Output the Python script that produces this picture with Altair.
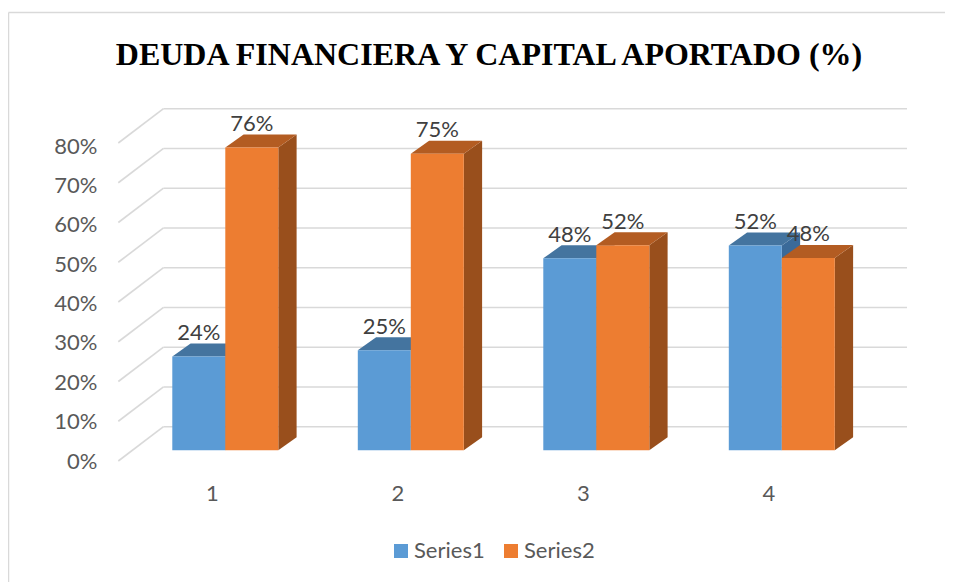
import altair as alt
import pandas as pd

TITLE = "DEUDA FINANCIERA Y CAPITAL APORTADO (%)"
categories = [1, 2, 3, 4]
series1 = [0.236, 0.252, 0.483, 0.515]
series2 = [0.762, 0.746, 0.516, 0.484]
y_ticks = [0, 0.1, 0.2, 0.3, 0.4, 0.5, 0.6, 0.7, 0.8]
C1, C2 = "#5b9bd5", "#ed7d31"
C1_TOP, C1_SIDE = "#44749f", "#3a6a99"
C2_TOP, C2_SIDE = "#b35c22", "#994f1c"
GRID = "#d9d9d9"

W, H = 937, 574
# scale domains (category units / fraction units)
XDOM = [-0.1714, 4.8798]
YDOM = [-0.3313, 1.1127]
XDOM_AX = [-0.0997, 4.9515]
YDOM_AX = [-0.3073, 1.1505]
BAR_W = 0.2857      # bar width in category units
DEPTH_X = 0.0987    # bar depth in category units
DEPTH_Y = 0.0327    # bar depth in value units
WALL_Y = 0.0594     # rise of back wall above the bar baseline
FLOOR_Y = 0.0269    # drop of floor front edge below the bar baseline
GRID_X = [0.4232, 0.6668, 4.675]


def X(f, axis=None, dom=XDOM):
    return alt.X(f, type="quantitative", scale=alt.Scale(domain=dom, nice=False, zero=False), axis=axis)


def Y(f, axis=None, dom=YDOM):
    return alt.Y(f, type="quantitative", scale=alt.Scale(domain=dom, nice=False, zero=False), axis=axis)


def faces(values, left_off):
    front, side, top = [], [], []
    for c, v in zip(categories, values):
        xl = c + left_off
        xr = xl + BAR_W
        front.append(dict(x=xl, x2=xr, y=0, y2=v, c=c))
        side += [dict(x=xr, y=0, y2=v, c=c),
                 dict(x=xr + DEPTH_X, y=DEPTH_Y, y2=v + DEPTH_Y, c=c)]
        top += [dict(x=xl, y=v, y2=v, c=c),
                dict(x=xl + DEPTH_X, y=v, y2=v + DEPTH_Y, c=c),
                dict(x=xr, y=v, y2=v + DEPTH_Y, c=c),
                dict(x=xr + DEPTH_X, y=v + DEPTH_Y, y2=v + DEPTH_Y, c=c)]
    return pd.DataFrame(front), pd.DataFrame(side), pd.DataFrame(top)


color_scale = alt.Scale(domain=["Series1", "Series2"], range=[C1, C2])
legend = alt.Legend(
    title=None, orient="none", legendX=382, legendY=532, direction="horizontal",
    symbolType="square", symbolSize=196, symbolStrokeWidth=0, labelFont="Lato",
    labelFontSize=22, labelColor="#595959", labelOffset=2, columnPadding=15,
)


def bar_layers(values, left_off, name, side_c, top_c):
    front, side, top = faces(values, left_off)
    front["s"] = name
    return [
        alt.Chart(side).mark_area(color=side_c).encode(X("x"), Y("y"), y2=alt.Y2("y2"), detail="c:N"),
        alt.Chart(top).mark_area(color=top_c).encode(X("x"), Y("y"), y2=alt.Y2("y2"), detail="c:N"),
        alt.Chart(front).mark_rect().encode(
            X("x"), x2=alt.X2("x2"), y=Y("y"), y2=alt.Y2("y2"),
            color=alt.Color("s:N", scale=color_scale, legend=legend),
        ),
    ]


grid_h = pd.DataFrame([dict(y=t + WALL_Y, x=GRID_X[1], x2=GRID_X[2]) for t in y_ticks])
grid_d = pd.DataFrame(
    [dict(t=t, x=GRID_X[0], y=t - FLOOR_Y) for t in y_ticks]
    + [dict(t=t, x=GRID_X[1], y=t + WALL_Y) for t in y_ticks]
)
labels = pd.DataFrame(
    [dict(x=c - BAR_W / 2, y=v) for c, v in zip(categories, series1)]
    + [dict(x=c + BAR_W / 2, y=v) for c, v in zip(categories, series2)]
)

frame_left = alt.Chart().mark_rule(color=GRID, strokeWidth=1.5).encode(
    x=alt.value(0.5), y=alt.value(4.5), y2=alt.value(H))
frame_top = alt.Chart().mark_rule(color=GRID, strokeWidth=1.5).encode(
    y=alt.value(4.5), x=alt.value(0.5), x2=alt.value(W))

layers = [
    frame_left,
    frame_top,
    alt.Chart(grid_h).mark_rule(color=GRID, strokeWidth=1.6).encode(X("x"), x2=alt.X2("x2"), y=Y("y")),
    alt.Chart(grid_d).mark_line(color=GRID, strokeWidth=1.6).encode(X("x"), Y("y"), detail="t:N"),
]
layers += bar_layers(series1, -BAR_W, "Series1", C1_SIDE, C1_TOP)
layers += bar_layers(series2, 0, "Series2", C2_SIDE, C2_TOP)
layers.append(
    alt.Chart(labels).mark_text(
        font="Lato", fontSize=22, color="#404040", dy=-16.6, dx=0, baseline="alphabetic", align="center"
    ).encode(X("x"), Y("y"), text=alt.Text("y:Q", format=".0%"))
)
layers.append(
    alt.Chart(pd.DataFrame({"v": y_ticks})).mark_point(opacity=0).encode(
        x=alt.value(0),
        y=Y("v", dom=YDOM_AX, axis=alt.Axis(
            orient="left", offset=-89, values=y_ticks, format=".0%", title=None, domain=False, ticks=False,
            grid=False, labelFont="Lato", labelFontSize=22, labelColor="#595959", labelPadding=0)),
    )
)
layers.append(
    alt.Chart(pd.DataFrame({"c": categories})).mark_point(opacity=0).encode(
        y=alt.value(0),
        x=X("c", dom=XDOM_AX, axis=alt.Axis(
            orient="bottom", offset=-89, values=categories, format="d", title=None, domain=False, ticks=False,
            grid=False, labelFont="Lato", labelFontSize=22, labelColor="#595959", labelPadding=0,
            labelBaseline="middle")),
    )
)

chart = (
    alt.layer(*layers)
    .resolve_scale(x="independent", y="independent")
    .properties(
        width=W, height=H, padding=0,
        autosize=alt.AutoSizeParams(type="none"),
        background="white",
        title=alt.TitleParams(
            TITLE, font="Liberation Serif", fontSize=32, fontWeight="bold", color="black",
            anchor="middle", frame="group", offset=0, dy=67, dx=12.5),
    )
    .configure_view(stroke=None)
)

chart.save("out.html", embed_options={"renderer": "svg", "actions": False})
